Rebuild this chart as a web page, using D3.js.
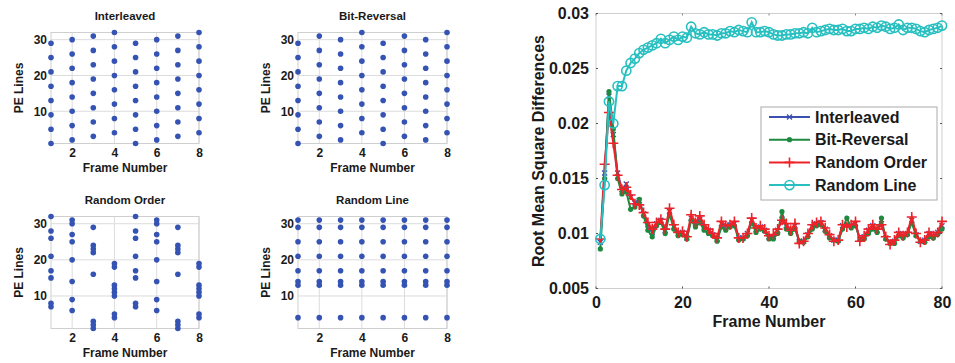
<!DOCTYPE html>
<html lang="en">
<head>
<meta charset="UTF-8">
<title>PE line ordering and RMS differences</title>
<style>
    body { margin: 0; background: #fff; }
    svg { display: block; }
    text { font-family: "Liberation Sans", Arial, sans-serif; font-weight: bold; fill: #1a1a1a; }
    .grid line { stroke: #dcdcdc; stroke-width: 1; }
    .frame { fill: none; stroke: #cfcfcf; stroke-width: 1; }
</style>
<script src="https://cdnjs.cloudflare.com/ajax/libs/d3/7.8.5/d3.min.js"></script>
</head>
<body>
<svg width="955" height="363"></svg>
<script>
    // ---- scatter panels: PE lines acquired in each frame ----
    const frames = [1, 2, 3, 4, 5, 6, 7, 8];
    const interleavedLines = [
        [1, 5, 9, 13, 17, 21, 25, 29],
        [2, 6, 10, 14, 18, 22, 26, 30],
        [3, 7, 11, 15, 19, 23, 27, 31],
        [4, 8, 12, 16, 20, 24, 28, 32],
        [1, 5, 9, 13, 17, 21, 25, 29],
        [2, 6, 10, 14, 18, 22, 26, 30],
        [3, 7, 11, 15, 19, 23, 27, 31],
        [4, 8, 12, 16, 20, 24, 28, 32]
    ];
    const bitReversalLines = [
        [1, 5, 9, 13, 17, 21, 25, 29],
        [3, 7, 11, 15, 19, 23, 27, 31],
        [2, 6, 10, 14, 18, 22, 26, 30],
        [4, 8, 12, 16, 20, 24, 28, 32],
        [1, 5, 9, 13, 17, 21, 25, 29],
        [3, 7, 11, 15, 19, 23, 27, 31],
        [2, 6, 10, 14, 18, 22, 26, 30],
        [4, 8, 12, 16, 20, 24, 28, 32]
    ];
    const randomOrderLines = [
        [7, 8, 15, 17, 21, 26, 28, 32],
        [6, 9, 14, 20, 25, 27, 30, 31],
        [1, 2, 3, 16, 22, 23, 24, 29],
        [4, 5, 10, 11, 12, 13, 18, 19],
        [7, 8, 15, 17, 21, 26, 28, 32],
        [6, 9, 14, 20, 25, 27, 30, 31],
        [1, 2, 3, 16, 22, 23, 24, 29],
        [4, 5, 10, 11, 12, 13, 18, 19]
    ];
    const randomLineLines = [
        [4, 13, 14, 17, 21, 25, 29, 31],
        [4, 13, 14, 17, 21, 25, 29, 31],
        [4, 13, 14, 17, 21, 25, 29, 31],
        [4, 13, 14, 17, 21, 25, 29, 31],
        [4, 13, 14, 17, 21, 25, 29, 31],
        [4, 13, 14, 17, 21, 25, 29, 31],
        [4, 13, 14, 17, 21, 25, 29, 31],
        [4, 13, 14, 17, 21, 25, 29, 31]
    ];
    const smallXTicks = [2, 4, 6, 8];
    const smallYTicks = [10, 20, 30];

    // ---- right panel: RMS differences per frame ----
    const rmsFrames = d3.range(1, 81);
    const rmsInterleaved = [
        0.0092, 0.0155, 0.0225, 0.0190, 0.0155, 0.0140, 0.0145, 0.0133, 0.0128, 0.0130,
        0.0118, 0.0108, 0.0101, 0.0109, 0.0112, 0.0103, 0.0120, 0.0106, 0.0100, 0.0101,
        0.0096, 0.0114, 0.0109, 0.0113, 0.0106, 0.0103, 0.0099, 0.0095, 0.0109, 0.0107,
        0.0108, 0.0109, 0.0096, 0.0096, 0.0100, 0.0112, 0.0104, 0.0106, 0.0103, 0.0097,
        0.0097, 0.0103, 0.0113, 0.0107, 0.0102, 0.0107, 0.0093, 0.0093, 0.0099, 0.0106,
        0.0109, 0.0110, 0.0104, 0.0098, 0.0094, 0.0094, 0.0107, 0.0108, 0.0107, 0.0109,
        0.0095, 0.0097, 0.0103, 0.0107, 0.0103, 0.0109, 0.0096, 0.0092, 0.0093, 0.0100,
        0.0098, 0.0100, 0.0112, 0.0099, 0.0093, 0.0094, 0.0100, 0.0098, 0.0101, 0.0107
    ];
    const rmsBitReversal = [
        0.0086, 0.0150, 0.0229, 0.0195, 0.0150, 0.0136, 0.0138, 0.0122, 0.0124, 0.0131,
        0.0116, 0.0103, 0.0097, 0.0107, 0.0110, 0.0100, 0.0118, 0.0104, 0.0098, 0.0099,
        0.0095, 0.0112, 0.0106, 0.0110, 0.0103, 0.0100, 0.0098, 0.0093, 0.0106, 0.0103,
        0.0106, 0.0107, 0.0094, 0.0095, 0.0098, 0.0110, 0.0101, 0.0104, 0.0102, 0.0095,
        0.0095, 0.0100, 0.0120, 0.0104, 0.0100, 0.0104, 0.0093, 0.0092, 0.0097, 0.0104,
        0.0107, 0.0108, 0.0102, 0.0096, 0.0094, 0.0093, 0.0104, 0.0114, 0.0105, 0.0107,
        0.0095, 0.0095, 0.0100, 0.0104, 0.0101, 0.0114, 0.0095, 0.0091, 0.0091, 0.0098,
        0.0096, 0.0099, 0.0110, 0.0098, 0.0093, 0.0092, 0.0097, 0.0096, 0.0099, 0.0104
    ];
    const rmsRandomOrder = [
        0.0095, 0.0163, 0.0210, 0.0182, 0.0153, 0.0140, 0.0142, 0.0135, 0.0127, 0.0126,
        0.0119, 0.0110, 0.0104, 0.0110, 0.0113, 0.0104, 0.0123, 0.0108, 0.0101, 0.0102,
        0.0097, 0.0117, 0.0110, 0.0116, 0.0108, 0.0104, 0.0100, 0.0096, 0.0111, 0.0107,
        0.0108, 0.0111, 0.0096, 0.0096, 0.0100, 0.0114, 0.0105, 0.0107, 0.0104, 0.0098,
        0.0099, 0.0104, 0.0112, 0.0109, 0.0103, 0.0109, 0.0091, 0.0093, 0.0100, 0.0108,
        0.0110, 0.0111, 0.0105, 0.0099, 0.0093, 0.0094, 0.0108, 0.0106, 0.0108, 0.0111,
        0.0093, 0.0098, 0.0104, 0.0108, 0.0104, 0.0108, 0.0097, 0.0090, 0.0094, 0.0101,
        0.0098, 0.0101, 0.0115, 0.0100, 0.0092, 0.0094, 0.0101, 0.0098, 0.0101, 0.0111
    ];
    const rmsRandomLine = [
        0.0095, 0.0144, 0.0220, 0.0200, 0.0234, 0.0234, 0.0248, 0.0255, 0.0259, 0.0264,
        0.0267, 0.0269, 0.0271, 0.0273, 0.0277, 0.0273, 0.0276, 0.0279, 0.0276, 0.0279,
        0.0278, 0.0288, 0.0282, 0.0281, 0.0283, 0.0281, 0.0281, 0.0280, 0.0282, 0.0282,
        0.0284, 0.0283, 0.0285, 0.0284, 0.0283, 0.0292, 0.0283, 0.0283, 0.0284, 0.0283,
        0.0281, 0.0280, 0.0280, 0.0281, 0.0281, 0.0282, 0.0282, 0.0283, 0.0282, 0.0287,
        0.0283, 0.0284, 0.0285, 0.0286, 0.0285, 0.0285, 0.0286, 0.0284, 0.0284, 0.0286,
        0.0286, 0.0287, 0.0286, 0.0288, 0.0287, 0.0289, 0.0288, 0.0286, 0.0287, 0.0290,
        0.0285, 0.0287, 0.0287, 0.0286, 0.0284, 0.0283, 0.0285, 0.0286, 0.0287, 0.0289
    ];
    const rmsXTicks = [0, 20, 40, 60, 80];
    const rmsYTicks = [0.005, 0.01, 0.015, 0.02, 0.025, 0.03];

    const svg = d3.select("svg");
    const dotColor = "#3553b2";

    // panel boxes: left, right, top, bottom in page pixels
    const panels = [
        { title: "Interleaved",  data: interleavedLines, x0: 51,  x1: 199, y0: 32.5,  y1: 143.5 },
        { title: "Bit-Reversal", data: bitReversalLines, x0: 298, x1: 447, y0: 32.5,  y1: 143.5 },
        { title: "Random Order", data: randomOrderLines, x0: 51,  x1: 199, y0: 216.5, y1: 328.5 },
        { title: "Random Line",  data: randomLineLines,  x0: 298, x1: 447, y0: 216.5, y1: 328.5 }
    ];

    panels.forEach(p => {
        const x = d3.scaleLinear().domain([1, 8]).range([p.x0, p.x1]);
        const y = d3.scaleLinear().domain([1, 32]).range([p.y1, p.y0]);
        const g = svg.append("g");

        const grid = g.append("g").attr("class", "grid");
        grid.selectAll(".gx").data(smallXTicks).enter().append("line")
            .attr("x1", d => x(d)).attr("x2", d => x(d))
            .attr("y1", p.y0).attr("y2", p.y1);
        grid.selectAll(".gy").data(smallYTicks).enter().append("line")
            .attr("y1", d => y(d)).attr("y2", d => y(d))
            .attr("x1", p.x0).attr("x2", p.x1);

        g.append("rect").attr("class", "frame")
            .attr("x", p.x0).attr("y", p.y0)
            .attr("width", p.x1 - p.x0).attr("height", p.y1 - p.y0);

        // tick labels via d3 axes, domain line and ticks hidden
        const xAxis = g.append("g")
            .attr("transform", `translate(0,${p.y1})`)
            .call(d3.axisBottom(x).tickValues(smallXTicks).tickFormat(d3.format("d"))
                .tickSize(0).tickPadding(5));
        const yAxis = g.append("g")
            .attr("transform", `translate(${p.x0},0)`)
            .call(d3.axisLeft(y).tickValues(smallYTicks).tickFormat(d3.format("d"))
                .tickSize(0).tickPadding(4));
        [xAxis, yAxis].forEach(a => {
            a.select(".domain").remove();
            a.selectAll("text").style("font-size", "12px").attr("fill", "#1a1a1a")
                .style("font-family", "'Liberation Sans', Arial, sans-serif");
        });

        const pts = [];
        p.data.forEach((lines, i) => lines.forEach(l => pts.push([frames[i], l])));
        g.selectAll("circle").data(pts).enter().append("circle")
            .attr("cx", d => x(d[0])).attr("cy", d => y(d[1]))
            .attr("r", 2.8).attr("fill", dotColor);

        const cx = (p.x0 + p.x1) / 2;
        g.append("text").attr("x", cx).attr("y", p.y0 - 13)
            .attr("text-anchor", "middle").style("font-size", "11.5px").text(p.title);
        g.append("text").attr("x", cx).attr("y", p.y1 + 28)
            .attr("text-anchor", "middle").style("font-size", "12px").text("Frame Number");
        g.append("text")
            .attr("transform", `translate(${p.x0 - 28},${(p.y0 + p.y1) / 2}) rotate(-90)`)
            .attr("text-anchor", "middle").style("font-size", "12px").text("PE Lines");
    });

    // ---- right line chart ----
    const R = { x0: 596, x1: 942, y0: 13.5, y1: 288.5 };
    const rx = d3.scaleLinear().domain([0, 80]).range([R.x0, R.x1]);
    const ry = d3.scaleLinear().domain([0.005, 0.03]).range([R.y1, R.y0]);
    const rg = svg.append("g");

    rg.append("rect").attr("class", "frame")
        .attr("x", R.x0).attr("y", R.y0)
        .attr("width", R.x1 - R.x0).attr("height", R.y1 - R.y0);

    const rxAxis = rg.append("g").attr("transform", `translate(0,${R.y1})`)
        .call(d3.axisBottom(rx).tickValues(rmsXTicks).tickFormat(d3.format("d")).tickSize(0).tickPadding(8));
    const ryAxis = rg.append("g").attr("transform", `translate(${R.x0},0)`)
        .call(d3.axisLeft(ry).tickValues(rmsYTicks).tickFormat(d => +d.toFixed(3)).tickSize(0).tickPadding(7));
    [rxAxis, ryAxis].forEach(a => {
        a.select(".domain").remove();
        a.selectAll("text").style("font-size", "16px").attr("fill", "#1a1a1a")
            .style("font-family", "'Liberation Sans', Arial, sans-serif");
    });
    // little inner tick marks, as in the original
    rg.selectAll(".tx").data(rmsXTicks).enter().append("line")
        .attr("x1", d => rx(d)).attr("x2", d => rx(d))
        .attr("y1", R.y1).attr("y2", R.y1 - 2).attr("stroke", "#555");
    rg.selectAll(".tx2").data(rmsXTicks).enter().append("line")
        .attr("x1", d => rx(d)).attr("x2", d => rx(d))
        .attr("y1", R.y0).attr("y2", R.y0 + 2).attr("stroke", "#888");
    rg.selectAll(".ty").data(rmsYTicks).enter().append("line")
        .attr("y1", d => ry(d)).attr("y2", d => ry(d))
        .attr("x1", R.x0).attr("x2", R.x0 + 2).attr("stroke", "#555");
    rg.selectAll(".ty2").data(rmsYTicks).enter().append("line")
        .attr("y1", d => ry(d)).attr("y2", d => ry(d))
        .attr("x1", R.x1).attr("x2", R.x1 - 2).attr("stroke", "#555");

    rg.append("text").attr("x", (R.x0 + R.x1) / 2).attr("y", 327)
        .attr("text-anchor", "middle").style("font-size", "16px").text("Frame Number");
    rg.append("text")
        .attr("transform", `translate(544,${(R.y0 + R.y1) / 2}) rotate(-90)`)
        .attr("text-anchor", "middle").style("font-size", "16px").text("Root Mean Square Differences");

    const series = [
        { name: "Interleaved",  values: rmsInterleaved, color: "#3b50b0", marker: "x" },
        { name: "Bit-Reversal", values: rmsBitReversal, color: "#1d8a3f", marker: "dot" },
        { name: "Random Order", values: rmsRandomOrder, color: "#ee2229", marker: "plus" },
        { name: "Random Line",  values: rmsRandomLine,  color: "#27bfc0", marker: "circle" }
    ];

    const line = d3.line().x((d, i) => rx(rmsFrames[i])).y(d => ry(d));

    function drawMarker(sel, s) {
        if (s.marker === "circle") {
            sel.append("circle").attr("r", 4.6).attr("fill", "none")
                .attr("stroke", s.color).attr("stroke-width", 1.6);
        } else if (s.marker === "dot") {
            sel.append("circle").attr("r", 2.6).attr("fill", s.color);
        } else if (s.marker === "plus") {
            sel.append("path").attr("d", "M-5,0H5M0,-5V5")
                .attr("stroke", s.color).attr("stroke-width", 1.6);
        } else {
            sel.append("path").attr("d", "M-2.5,-2.5L2.5,2.5M-2.5,2.5L2.5,-2.5")
                .attr("stroke", s.color).attr("stroke-width", 1.3);
        }
    }

    series.forEach(s => {
        const sg = rg.append("g");
        sg.append("path").datum(s.values).attr("d", line)
            .attr("fill", "none").attr("stroke", s.color).attr("stroke-width", 2);
        sg.selectAll("g").data(s.values).enter().append("g")
            .attr("transform", (d, i) => `translate(${rx(rmsFrames[i])},${ry(d)})`)
            .each(function () { drawMarker(d3.select(this), s); });
    });

    // legend
    const lg = rg.append("g").attr("transform", "translate(761,107)");
    lg.append("rect").attr("width", 176).attr("height", 93)
        .attr("fill", "#fff").attr("stroke", "#aaa").attr("stroke-width", 1);
    series.forEach((s, i) => {
        const row = lg.append("g").attr("transform", `translate(0,${10 + i * 22.7})`);
        row.append("line").attr("x1", 8).attr("x2", 49)
            .attr("stroke", s.color).attr("stroke-width", 2);
        drawMarker(row.append("g").attr("transform", "translate(28.5,0)"), s);
        row.append("text").attr("x", 54).attr("y", 5.5)
            .style("font-size", "16px").text(s.name);
    });
</script>
</body>
</html>
